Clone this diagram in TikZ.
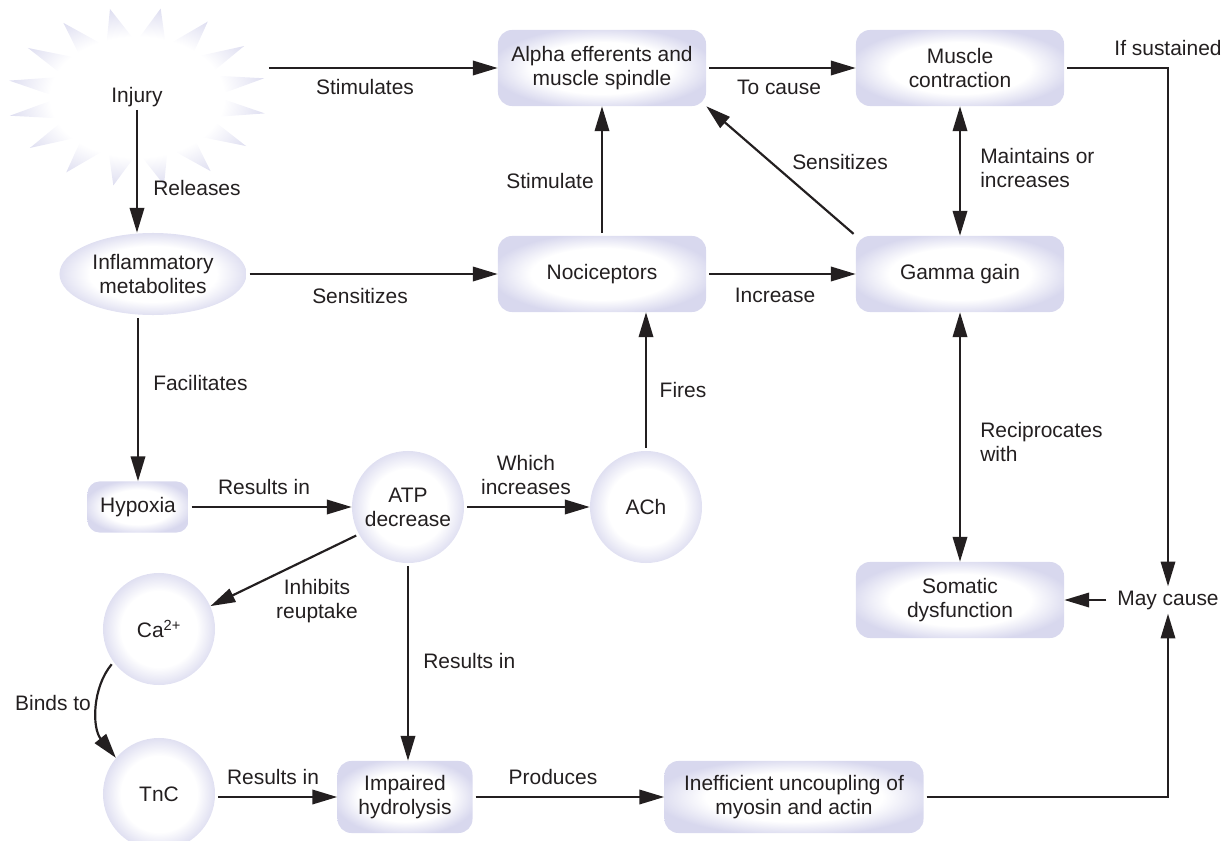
\documentclass[tikz,border=0pt]{standalone}
\usepackage{fontspec}
\setmainfont{Liberation Sans}
\usetikzlibrary{shapes,% ellipse for the metabolites node
arrows.meta}
\definecolor{lav}{RGB}{216,216,238}
\definecolor{ink}{RGB}{35,31,32}
\pgfdeclareradialshading{lavglow}{\pgfpoint{0bp}{0bp}}{color(0bp)=(white); color(17bp)=(white); color(27bp)=(lav); color(50bp)=(lav)}
\tikzset{every node/.style={font=\fontsize{14.9pt}{17.1pt}\selectfont, text=ink},
  box/.style={rectangle, rounded corners=.35cm, shade, shading=lavglow,
    minimum width=5.2cm, minimum height=1.9cm, align=center, inner sep=2pt},
  disc/.style={circle, shade, shading=lavglow, minimum size=2.8cm, align=center, inner sep=1pt},
  lbl/.style={inner sep=0pt, align=center},
  arr/.style={draw=ink, line width=1.55pt, -{Triangle[length=.62cm,width=.36cm]}, shorten <=.07cm},
  darr/.style={draw=ink, line width=1.55pt,
    {Triangle[length=.62cm,width=.36cm]}-{Triangle[length=.62cm,width=.36cm]}}}

\begin{document}
\begin{tikzpicture}[x=0.025cm,y=-0.025cm]
  \useasboundingbox (0,0) rectangle (1230,841);
  % starburst round the injury
  \shade[shading=lavglow] plot[domain=0:31, samples=32, variable=\k]
    ({137+ifthenelse(mod(\k,2)==0,130,78)*cos(12+11.25*\k)},
     {97-ifthenelse(mod(\k,2)==0,90,55)*sin(12+11.25*\k)}) -- cycle;
  \node[lbl] (injury) at (137,97) {Injury};
  \coordinate (starE) at (266,68);

  \node[box] (alpha) at (602,68) {Alpha efferents and\\muscle spindle};
  \node[box] (muscle) at (960,68) {Muscle\\contraction};
  \node[ellipse, shade, shading=lavglow, minimum width=4.675cm, minimum height=2.05cm,
    align=center, inner sep=1pt] (infl) at (153,274) {Inflammatory\\metabolites};
  \node[box] (noci) at (602,274) {Nociceptors};
  \node[box] (gamma) at (960,274) {Gamma gain};
  \node[box, minimum width=2.525cm, minimum height=1.275cm, rounded corners=.3cm] (hypoxia) at (138,507) {Hypoxia};
  \node[disc] (atp) at (408,507) {ATP\\decrease};
  \node[disc] (ach) at (646,507) {ACh};
  \node[disc] (ca) at (159,629) {Ca\textsuperscript{2+}};
  \node[disc] (tnc) at (159,794) {TnC};
  \node[box, minimum width=3.375cm, minimum height=1.8cm] (imp) at (405,797) {Impaired\\hydrolysis};
  \node[box, minimum width=6.475cm, minimum height=1.8cm] (inef) at (794,797) {Inefficient uncoupling of\\myosin and actin};
  \node[box] (somatic) at (960,600) {Somatic\\dysfunction};
  \node[lbl, inner xsep=.2cm, inner ysep=.1cm] (maycause) at (1168,600) {May cause};

  \draw[arr] (starE) -- (alpha.west);
  \draw[arr] (injury.south) -- (injury.south |- infl.north);
  \draw[arr] (alpha.east) -- (muscle.west);
  \draw[arr] (muscle.east) -| (maycause.north);
  \draw[darr] (muscle.south) -- (gamma.north);
  \draw[arr] (gamma.north west) -- (alpha.south east);
  \draw[arr] (noci.north) -- (alpha.south);
  \draw[arr] (infl.east) -- (noci.west);
  \draw[arr] (noci.east) -- (gamma.west);
  \draw[arr] (hypoxia |- infl.south) -- (hypoxia.north);
  \draw[arr] (hypoxia.east) -- (atp.west);
  \draw[arr] (atp.east) -- (ach.west);
  \draw[arr] (ach.north) -- (ach.north |- noci.south);
  \draw[darr] (gamma.south) -- (somatic.north);
  \draw[arr] (atp.209) -- (ca.24);
  \draw[arr] (atp.south) -- (atp.south |- imp.north);
  \draw[arr] (ca.216) .. controls (92,688) and (92,728) .. (tnc.140);
  \draw[arr] (tnc.east |- imp.west) -- (imp.west);
  \draw[arr] (imp.east) -- (inef.west);
  \draw[arr] (inef.east) -| (maycause.south);
  \draw[arr] (maycause.west) -- (somatic.east);

  % connector labels
  \node[lbl] (tStim) at (365,87) {Stimulates};
  \node[lbl, anchor=west] (tRel) at (153,188) {Releases};
  \node[lbl] (tCause) at (779,87) {To cause};
  \node[lbl] (tSust) at (1168,48) {If sustained};
  \node[lbl, align=left, anchor=west] (tMaint) at (980,168) {Maintains or\\increases};
  \node[lbl] (tSensA) at (840,162) {Sensitizes};
  \node[lbl] (tStimB) at (550,181) {Stimulate};
  \node[lbl] (tSensB) at (360,296) {Sensitizes};
  \node[lbl] (tIncr) at (775,295) {Increase};
  \node[lbl, anchor=west] (tFac) at (153,383) {Facilitates};
  \node[lbl] (tFire) at (683,390) {Fires};
  \node[lbl, align=left, anchor=west] (tRecip) at (980,442) {Reciprocates\\with};
  \node[lbl] (tResA) at (264,487) {Results in};
  \node[lbl] (tWhich) at (526,475) {Which\\increases};
  \node[lbl] (tInhib) at (317,601) {Inhibits\\reuptake};
  \node[lbl, anchor=west] (tResB) at (423,661) {Results in};
  \node[lbl] (tBind) at (53,703) {Binds to};
  \node[lbl] (tResC) at (273,777) {Results in};
  \node[lbl] (tProd) at (553,777) {Produces};
\end{tikzpicture}
\end{document}
